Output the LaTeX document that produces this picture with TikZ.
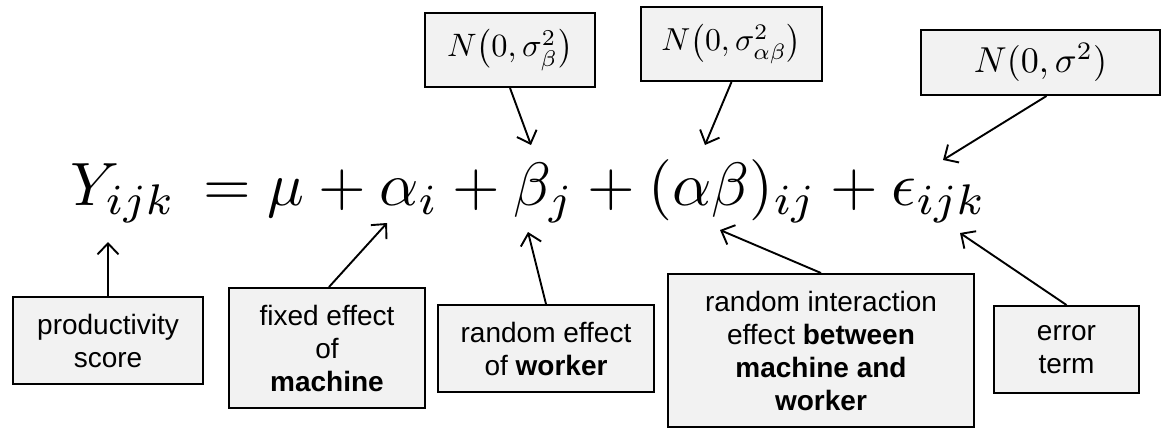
\documentclass[tikz,border=0pt]{standalone}
\usepackage{amsmath}
\usepackage{graphicx}
\usepackage{fontspec}
\setsansfont{Liberation Sans}
\usetikzlibrary{arrows.meta}
\definecolor{boxgray}{HTML}{F2F2F2}
\tikzset{
  box/.style={draw=black, line width=2pt, fill=boxgray, align=center,
    inner sep=0pt, font=\sffamily\fontsize{28}{33}\selectfont},
  mathbox/.style={draw=black, line width=2pt, fill=boxgray, align=center,
    inner sep=0pt},
  conn/.style={-{Straight Barb[length=11pt,width=21pt]}, line width=1.9pt}
}
\begin{document}
\begin{tikzpicture}[x=1pt,y=-1pt]
\useasboundingbox (0,0) rectangle (1163,429);
% equation
\node[anchor=base west, inner sep=0pt] (eq) at (70,205)
  {\resizebox{916pt}{!}{$Y_{ijk}\,=\mu+\alpha_i+\beta_j+(\alpha\beta)_{ij}+\epsilon_{ijk}$}};
% arrow tips on the equation
\coordinate (tY) at (108,242);
\coordinate (tA) at (387,223);
\coordinate (tB) at (528,232);
\coordinate (tAB) at (720,230);
\coordinate (tE) at (960,233);
\coordinate (tSB) at (531,145);
\coordinate (tSAB) at (705,145);
\coordinate (tS) at (943,160);
% top boxes
\node[mathbox, minimum width=170pt, minimum height=74pt] (sb) at (510,50)
  {\resizebox{126pt}{!}{$N\bigl(0,\sigma_\beta^2\bigr)$}};
\node[mathbox, minimum width=181pt, minimum height=74pt] (sab) at (731.5,44)
  {\resizebox{140pt}{!}{$N\bigl(0,\sigma_{\alpha\beta}^2\bigr)$}};
\node[mathbox, minimum width=239pt, minimum height=65pt] (s) at (1040.5,62.5)
  {\resizebox{133pt}{!}{$N(0,\sigma^2)$}};
% bottom boxes
\node[box, minimum width=190pt, minimum height=87pt] (prod) at (108,340.5)
  {productivity\\score};
\node[box, minimum width=196pt, minimum height=120pt] (fixed) at (327,348)
  {fixed effect\\of\\\textbf{machine}};
\node[box, minimum width=216pt, minimum height=87pt] (rw) at (546,348.5)
  {random effect\\of \textbf{worker}};
\node[box, minimum width=306pt, minimum height=153pt] (inter) at (821,350.5)
  {random interaction\\effect \textbf{between}\\\textbf{machine and}\\\textbf{worker}};
\node[box, minimum width=145pt, minimum height=87pt] (err) at (1066.5,349.5)
  {error\\term};
% connectors
\draw[conn] (prod.north) -- (tY);
\draw[conn] ([xshift=2pt]fixed.north) -- (tA);
\draw[conn] (rw.north) -- (tB);
\draw[conn] (inter.north) -- (tAB);
\draw[conn] (err.north) -- (tE);
\draw[conn] (sb.south) -- (tSB);
\draw[conn] (sab.south) -- (tSAB);
\draw[conn] ([xshift=6pt]s.south) -- (tS);
\end{tikzpicture}
\end{document}
